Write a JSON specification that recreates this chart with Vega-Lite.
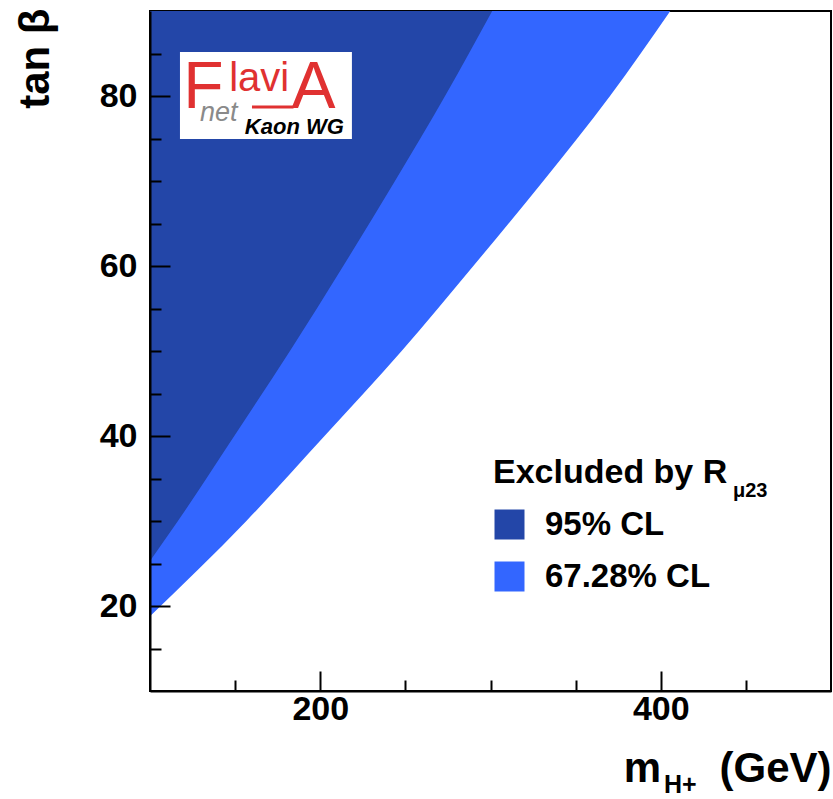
{
  "$schema": "https://vega.github.io/schema/vega-lite/v6.json",
  "width": 681,
  "height": 680,
  "autosize": {"type": "none"},
  "padding": {"left": 150, "top": 11, "right": 2, "bottom": 108},
  "background": "white",
  "config": {
    "font": "Liberation Sans",
    "view": {"stroke": "black", "strokeWidth": 2},
    "axis": {
      "grid": false,
      "domainColor": "black",
      "domainWidth": 2,
      "tickColor": "black",
      "tickWidth": 2,
      "labelFont": "Liberation Sans",
      "labelFontWeight": "bold",
      "labelFontSize": 34,
      "labelColor": "black",
      "labelFlush": false,
      "labelOverlap": false,
      "titleFont": "Liberation Sans",
      "titleFontWeight": "bold",
      "titleFontSize": 42,
      "titleColor": "black"
    }
  },
  "encoding": {
    "x": {
      "field": "m",
      "type": "quantitative",
      "scale": {"domain": [100, 500], "nice": false, "zero": false},
      "axis": {
        "zindex": 2,
        "title": "m\u00a0\u00a0\u00a0\u00a0\u00a0(GeV)",
        "values": [150, 200, 250, 300, 350, 400, 450],
        "labelExpr": "datum.value % 200 === 0 ? datum.label : ''",
        "tickSize": {"condition": {"test": "datum.value % 200 === 0", "value": -20}, "value": -11},
        "labelPadding": 21,
        "titleX": 681,
        "titleY": 90,
        "titleAlign": "right",
        "titleBaseline": "alphabetic"
      }
    },
    "y": {
      "field": "tb",
      "type": "quantitative",
      "scale": {"domain": [10, 90], "nice": false, "zero": false},
      "axis": {
        "zindex": 2,
        "title": "tan β",
        "values": [15, 20, 25, 30, 35, 40, 45, 50, 55, 60, 65, 70, 75, 80, 85],
        "labelExpr": "datum.value % 20 === 0 ? datum.label : ''",
        "tickSize": {"condition": {"test": "datum.value % 20 === 0", "value": -20}, "value": -11},
        "labelPadding": 33,
        "titleAngle": -90,
        "titleX": -102,
        "titleY": -3,
        "titleAlign": "right",
        "titleBaseline": "alphabetic"
      }
    }
  },
  "layer": [
    {
      "data": {"values": [
        {"m": 100, "tb": 18.8, "cl": "67.28% CL"},
        {"m": 156.6, "tb": 30, "cl": "67.28% CL"},
        {"m": 202.5, "tb": 40, "cl": "67.28% CL"},
        {"m": 247.8, "tb": 50, "cl": "67.28% CL"},
        {"m": 289.9, "tb": 60, "cl": "67.28% CL"},
        {"m": 331, "tb": 70, "cl": "67.28% CL"},
        {"m": 370.2, "tb": 80, "cl": "67.28% CL"},
        {"m": 405.6, "tb": 90, "cl": "67.28% CL"}
      ]},
      "mark": {"type": "area", "interpolate": "monotone", "opacity": 1},
      "encoding": {
        "y2": {"datum": 90},
        "color": {
          "field": "cl",
          "type": "nominal",
          "scale": {"domain": ["95% CL", "67.28% CL"], "range": ["#2346a8", "#3366ff"]},
          "legend": {
            "orient": "none",
            "legendX": 343,
            "legendY": 445,
            "title": "Excluded by R",
            "titleFont": "Liberation Sans",
            "titleFontSize": 34,
            "titleFontWeight": "bold",
            "titleColor": "black",
            "titlePadding": 18,
            "titleLimit": 400,
            "labelFont": "Liberation Sans",
            "labelFontSize": 33,
            "labelFontWeight": "bold",
            "labelColor": "black",
            "labelLimit": 300,
            "labelOffset": 19,
            "symbolType": "square",
            "symbolSize": 900,
            "symbolStrokeWidth": 0,
            "symbolOpacity": 1,
            "rowPadding": 18,
            "padding": 0
          }
        }
      }
    },
    {
      "data": {"values": [
        {"m": 100, "tb": 25.3, "cl": "95% CL"},
        {"m": 116.4, "tb": 30, "cl": "95% CL"},
        {"m": 149.5, "tb": 40, "cl": "95% CL"},
        {"m": 182.2, "tb": 50, "cl": "95% CL"},
        {"m": 213.5, "tb": 60, "cl": "95% CL"},
        {"m": 243.9, "tb": 70, "cl": "95% CL"},
        {"m": 273.3, "tb": 80, "cl": "95% CL"},
        {"m": 301, "tb": 90, "cl": "95% CL"}
      ]},
      "mark": {"type": "area", "interpolate": "monotone", "opacity": 1},
      "encoding": {
        "y2": {"datum": 90},
        "color": {"field": "cl", "type": "nominal"}
      }
    },
    {
      "data": {"values": [{"m": 117.6, "m2": 218.6, "tb": 85.18, "tb2": 74.94}]},
      "mark": {"type": "rect", "fill": "white"},
      "encoding": {
        "x2": {"field": "m2"},
        "y2": {"field": "tb2"}
      }
    },
    {
      "data": {"values": [{"m": 159.9, "m2": 184.3, "tb": 78.7}]},
      "mark": {"type": "rule", "color": "#e03131", "strokeWidth": 3},
      "encoding": {"x2": {"field": "m2"}}
    },
    {
      "data": {"values": [{"m": 119.5, "tb": 78.62, "t": "F"}, {"m": 183.1, "tb": 78.62, "t": "A"}]},
      "mark": {"type": "text", "align": "left", "baseline": "alphabetic", "font": "Liberation Sans Narrow, Liberation Sans", "fontSize": 66, "color": "#e03131"},
      "encoding": {"text": {"field": "t"}}
    },
    {
      "data": {"values": [{"m": 146.5, "tb": 80.6, "t": "lavi"}]},
      "mark": {"type": "text", "align": "left", "baseline": "alphabetic", "font": "Liberation Sans Narrow, Liberation Sans", "fontSize": 40, "color": "#e03131"},
      "encoding": {"text": {"field": "t"}}
    },
    {
      "data": {"values": [{"m": 129.4, "tb": 77.1, "t": "net"}]},
      "mark": {"type": "text", "align": "left", "baseline": "alphabetic", "font": "Liberation Sans", "fontStyle": "italic", "fontSize": 27, "color": "#8a8a8a"},
      "encoding": {"text": {"field": "t"}}
    },
    {
      "data": {"values": [{"m": 155.7, "tb": 75.58, "t": "Kaon WG"}]},
      "mark": {"type": "text", "align": "left", "baseline": "alphabetic", "font": "Liberation Sans", "fontStyle": "italic", "fontWeight": "bold", "fontSize": 22, "color": "black"},
      "encoding": {"text": {"field": "t"}}
    },
    {
      "data": {"values": [{"m": 442.4, "tb": 32.8, "t": "μ23"}]},
      "mark": {"type": "text", "align": "left", "baseline": "alphabetic", "font": "Liberation Sans", "fontWeight": "bold", "fontSize": 20, "color": "black"},
      "encoding": {"text": {"field": "t"}}
    },
    {
      "data": {"values": [{"m": 401.9, "tb": -2.0, "t": "H+"}]},
      "mark": {"type": "text", "align": "left", "baseline": "alphabetic", "font": "Liberation Sans", "fontWeight": "bold", "fontSize": 25, "color": "black"},
      "encoding": {"text": {"field": "t"}}
    }
  ]
}
